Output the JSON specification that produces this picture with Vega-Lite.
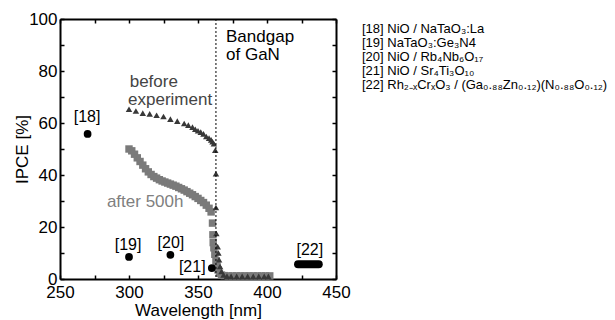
{
  "$schema": "https://vega.github.io/schema/vega-lite/v6.json",
  "width": 276,
  "height": 260,
  "autosize": {"type": "none"},
  "padding": {"left": 60, "top": 19, "right": 279, "bottom": 41},
  "background": "white",
  "config": {
    "view": {"stroke": null},
    "font": "Liberation Sans",
    "axis": {
      "grid": false,
      "domainColor": "black",
      "domainWidth": 2,
      "tickColor": "black",
      "tickWidth": 1.5,
      "tickSize": -4,
      "labelColor": "black",
      "labelFont": "Liberation Sans",
      "labelFontSize": 17,
      "labelFlush": false,
      "labelOverlap": false,
      "titleFont": "Liberation Sans",
      "titleFontSize": 17,
      "titleFontWeight": "normal",
      "titleColor": "black"
    }
  },
  "datasets": {
    "before": [
      {"wl": 300, "ipce": 65.3}, {"wl": 305, "ipce": 64.6}, {"wl": 310, "ipce": 63.8}, {"wl": 315, "ipce": 63.5},
      {"wl": 320, "ipce": 63.0}, {"wl": 325, "ipce": 62.5}, {"wl": 330, "ipce": 61.5}, {"wl": 335, "ipce": 60.7},
      {"wl": 340, "ipce": 59.8}, {"wl": 343, "ipce": 59.2}, {"wl": 346, "ipce": 58.4}, {"wl": 348, "ipce": 57.6},
      {"wl": 350, "ipce": 57.0}, {"wl": 352, "ipce": 56.5}, {"wl": 354, "ipce": 55.8}, {"wl": 356, "ipce": 54.8},
      {"wl": 358, "ipce": 54.2}, {"wl": 359.5, "ipce": 53.5}, {"wl": 360.5, "ipce": 52.8}, {"wl": 361.5, "ipce": 52.0},
      {"wl": 362.5, "ipce": 49.5}, {"wl": 363, "ipce": 40.5}, {"wl": 363, "ipce": 27.5}, {"wl": 363.3, "ipce": 17.5},
      {"wl": 364.3, "ipce": 12.4}, {"wl": 364.8, "ipce": 10.0}, {"wl": 365.3, "ipce": 7.4}, {"wl": 366, "ipce": 4.8},
      {"wl": 367, "ipce": 2.9}, {"wl": 368.5, "ipce": 1.6}, {"wl": 371, "ipce": 1.1}, {"wl": 374, "ipce": 1.0},
      {"wl": 378, "ipce": 1.0}, {"wl": 382, "ipce": 1.0}, {"wl": 386, "ipce": 1.0}, {"wl": 390, "ipce": 1.0},
      {"wl": 394, "ipce": 1.0}, {"wl": 398, "ipce": 1.0}, {"wl": 401, "ipce": 1.0}
    ],
    "after": [
      {"wl": 300, "ipce": 50.0}, {"wl": 302, "ipce": 49.3}, {"wl": 304, "ipce": 48.0}, {"wl": 306, "ipce": 46.6},
      {"wl": 308, "ipce": 45.2}, {"wl": 310, "ipce": 43.8}, {"wl": 312, "ipce": 42.4}, {"wl": 314, "ipce": 41.2},
      {"wl": 316, "ipce": 40.2}, {"wl": 318, "ipce": 39.4}, {"wl": 320, "ipce": 38.8}, {"wl": 322, "ipce": 38.2},
      {"wl": 324, "ipce": 37.7}, {"wl": 326, "ipce": 37.3}, {"wl": 328, "ipce": 36.9}, {"wl": 330, "ipce": 36.5},
      {"wl": 332, "ipce": 36.1}, {"wl": 334, "ipce": 35.7}, {"wl": 336, "ipce": 35.2}, {"wl": 338, "ipce": 34.7},
      {"wl": 340, "ipce": 34.2}, {"wl": 342, "ipce": 33.6}, {"wl": 344, "ipce": 33.0}, {"wl": 346, "ipce": 32.4},
      {"wl": 348, "ipce": 31.7}, {"wl": 350, "ipce": 31.0}, {"wl": 352, "ipce": 30.2}, {"wl": 354, "ipce": 29.4},
      {"wl": 356, "ipce": 28.4}, {"wl": 358, "ipce": 27.2}, {"wl": 359.5, "ipce": 25.8}, {"wl": 360.5, "ipce": 21.5},
      {"wl": 360.8, "ipce": 17.0}, {"wl": 361, "ipce": 14.0}, {"wl": 361.5, "ipce": 12.0}, {"wl": 362.2, "ipce": 9.5},
      {"wl": 363, "ipce": 7.0}, {"wl": 363.8, "ipce": 5.0}, {"wl": 364.5, "ipce": 3.5}, {"wl": 365.5, "ipce": 2.2},
      {"wl": 367, "ipce": 1.5}, {"wl": 369, "ipce": 1.3}, {"wl": 372, "ipce": 1.2}, {"wl": 375, "ipce": 1.2},
      {"wl": 378, "ipce": 1.2}, {"wl": 381, "ipce": 1.2}, {"wl": 384, "ipce": 1.2}, {"wl": 387, "ipce": 1.2},
      {"wl": 390, "ipce": 1.2}, {"wl": 393, "ipce": 1.2}, {"wl": 396, "ipce": 1.2}, {"wl": 399, "ipce": 1.2},
      {"wl": 402, "ipce": 1.2}
    ],
    "refs": [
      {"ref": "[18]", "wl": 270, "ipce": 55.8},
      {"ref": "[19]", "wl": 300, "ipce": 8.5},
      {"ref": "[20]", "wl": 330, "ipce": 9.3},
      {"ref": "[21]", "wl": 360, "ipce": 4.2}
    ],
    "ref22": [
      {"wl": 422.5, "ipce": 5.7},
      {"wl": 437.5, "ipce": 5.7}
    ],
    "reflabels": [
      {"label": "[18]", "wl": 269.6, "ipce": 62.3},
      {"label": "[19]", "wl": 299.3, "ipce": 13.1},
      {"label": "[20]", "wl": 330.4, "ipce": 13.8},
      {"label": "[22]", "wl": 431, "ipce": 11.2}
    ],
    "legend": [
      {"label": "[18] NiO / NaTaO₃:La", "wl": 468.8, "ipce": 96.2},
      {"label": "[19] NaTaO₃:Ge₃N4", "wl": 468.8, "ipce": 90.8},
      {"label": "[20] NiO / Rb₄Nb₆O₁₇", "wl": 468.8, "ipce": 85.4},
      {"label": "[21] NiO / Sr₄Ti₃O₁₀", "wl": 468.8, "ipce": 80.0},
      {"label": "[22] Rh₂₋ₓCrₓO₃ / (Ga₀.₈₈Zn₀.₁₂)(N₀.₈₈O₀.₁₂)", "wl": 468.8, "ipce": 74.6}
    ]
  },
  "layer": [
    {
      "data": {"values": [{"wl": 250, "ipce": 0}]},
      "mark": {"type": "point", "opacity": 0},
      "encoding": {
        "x": {"field": "wl", "type": "quantitative", "scale": {"domain": [250, 450], "nice": false, "zero": false},
          "axis": {"orient": "bottom", "title": "Wavelength [nm]", "values": [250, 275, 300, 325, 350, 375, 400, 425, 450],
            "labelExpr": "datum.value % 50 == 0 ? datum.label : ''", "labelPadding": 9, "titlePadding": 2}},
        "y": {"field": "ipce", "type": "quantitative", "scale": {"domain": [0, 100], "nice": false},
          "axis": {"orient": "left", "title": "IPCE [%]", "values": [0, 10, 20, 30, 40, 50, 60, 70, 80, 90, 100],
            "labelExpr": "datum.value % 20 == 0 ? datum.label : ''", "labelPadding": 7, "titlePadding": -3}}
      }
    },
    {
      "data": {"values": [{"wl": 250, "ipce": 0}]},
      "mark": {"type": "point", "opacity": 0},
      "encoding": {
        "x": {"field": "wl", "type": "quantitative",
          "axis": {"orient": "top", "title": null, "labels": false, "values": [250, 275, 300, 325, 350, 375, 400, 425, 450]}},
        "y": {"field": "ipce", "type": "quantitative",
          "axis": {"orient": "right", "title": null, "labels": false, "values": [0, 10, 20, 30, 40, 50, 60, 70, 80, 90, 100]}}
      }
    },
    {
      "data": {"name": "after"},
      "mark": {"type": "square", "size": 55, "color": "#7a7a7a", "opacity": 1},
      "encoding": {
        "x": {"field": "wl", "type": "quantitative", "axis": null},
        "y": {"field": "ipce", "type": "quantitative", "axis": null}
      }
    },
    {
      "data": {"name": "before"},
      "mark": {"type": "point", "shape": "triangle-up", "filled": true, "size": 42, "color": "#383838", "opacity": 1},
      "encoding": {
        "x": {"field": "wl", "type": "quantitative", "axis": null},
        "y": {"field": "ipce", "type": "quantitative", "axis": null}
      }
    },
    {
      "data": {"values": [{"wl": 363}]},
      "mark": {"type": "rule", "color": "black", "strokeWidth": 1, "strokeDash": [2, 2]},
      "encoding": {
        "x": {"field": "wl", "type": "quantitative", "axis": null}
      }
    },
    {
      "data": {"name": "refs"},
      "mark": {"type": "circle", "size": 60, "color": "black", "opacity": 1},
      "encoding": {
        "x": {"field": "wl", "type": "quantitative", "axis": null},
        "y": {"field": "ipce", "type": "quantitative", "axis": null}
      }
    },
    {
      "data": {"name": "ref22"},
      "mark": {"type": "line", "color": "black", "strokeWidth": 8, "strokeCap": "round"},
      "encoding": {
        "x": {"field": "wl", "type": "quantitative", "axis": null},
        "y": {"field": "ipce", "type": "quantitative", "axis": null}
      }
    },
    {
      "data": {"name": "reflabels"},
      "mark": {"type": "text", "fontSize": 16, "color": "black", "align": "center", "baseline": "middle"},
      "encoding": {
        "x": {"field": "wl", "type": "quantitative", "axis": null},
        "y": {"field": "ipce", "type": "quantitative", "axis": null},
        "text": {"field": "label"}
      }
    },
    {
      "data": {"values": [{"label": "[21]", "wl": 355.5, "ipce": 4.6}]},
      "mark": {"type": "text", "fontSize": 16, "color": "black", "align": "right", "baseline": "middle"},
      "encoding": {
        "x": {"field": "wl", "type": "quantitative", "axis": null},
        "y": {"field": "ipce", "type": "quantitative", "axis": null},
        "text": {"field": "label"}
      }
    },
    {
      "data": {"values": [{"label": "before", "wl": 300.5, "ipce": 75.8}, {"label": "experiment", "wl": 299.3, "ipce": 68.8}]},
      "mark": {"type": "text", "fontSize": 17, "color": "#444444", "align": "left", "baseline": "middle"},
      "encoding": {
        "x": {"field": "wl", "type": "quantitative", "axis": null},
        "y": {"field": "ipce", "type": "quantitative", "axis": null},
        "text": {"field": "label"}
      }
    },
    {
      "data": {"values": [{"label": "after 500h", "wl": 284, "ipce": 29.6}]},
      "mark": {"type": "text", "fontSize": 17, "color": "#808080", "align": "left", "baseline": "middle"},
      "encoding": {
        "x": {"field": "wl", "type": "quantitative", "axis": null},
        "y": {"field": "ipce", "type": "quantitative", "axis": null},
        "text": {"field": "label"}
      }
    },
    {
      "data": {"values": [{"label": "Bandgap", "wl": 370.3, "ipce": 93}, {"label": "of GaN", "wl": 370.3, "ipce": 86.2}]},
      "mark": {"type": "text", "fontSize": 17, "color": "black", "align": "left", "baseline": "middle"},
      "encoding": {
        "x": {"field": "wl", "type": "quantitative", "axis": null},
        "y": {"field": "ipce", "type": "quantitative", "axis": null},
        "text": {"field": "label"}
      }
    },
    {
      "data": {"name": "legend"},
      "mark": {"type": "text", "fontSize": 13, "color": "black", "align": "left", "baseline": "middle"},
      "encoding": {
        "x": {"field": "wl", "type": "quantitative", "axis": null},
        "y": {"field": "ipce", "type": "quantitative", "axis": null},
        "text": {"field": "label"}
      }
    }
  ],
  "resolve": {"axis": {"x": "independent", "y": "independent"}}
}
